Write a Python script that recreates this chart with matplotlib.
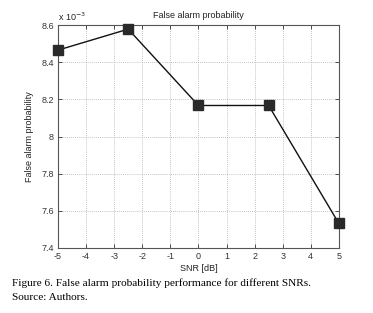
import numpy as np
import matplotlib
matplotlib.use("Agg")
import matplotlib.pyplot as plt
from matplotlib.ticker import FuncFormatter

snr_db = [-5, -2.5, 0, 2.5, 5]
pfa_e3 = [8.465, 8.578, 8.167, 8.167, 7.532]   # false alarm prob, x 1e-3
xticks = np.arange(-5, 6, 1)
yticks = [7.4, 7.6, 7.8, 8.0, 8.2, 8.4, 8.6]

plt.rcParams["font.family"] = ["Liberation Sans", "DejaVu Sans"]
plt.rcParams["axes.unicode_minus"] = False

fig = plt.figure(figsize=(3.73, 3.13), dpi=100)
ax = fig.add_axes([0.1555, 0.2077, 0.753, 0.7123])

ax.plot(snr_db, pfa_e3, color="#111111", lw=1.0, marker="s", ms=7,
        mfc="#2a2a2a", mec="#2a2a2a", clip_on=False, zorder=3)

ax.set_xlim(-5, 5)
ax.set_ylim(7.4, 8.6)
ax.set_xticks(xticks)
ax.set_yticks(yticks)
ax.yaxis.set_major_formatter(FuncFormatter(lambda v, p: "%g" % round(v, 2)))
ax.tick_params(direction="in", labelsize=6.5, length=3, width=0.6, pad=3,
               top=True, right=True, colors="#333333")
ax.grid(True, ls=(0, (1, 1.5)), color="#b0b0b0", lw=0.6)
for s in ax.spines.values():
    s.set_color("#555555")
    s.set_linewidth(0.8)

ax.set_title("False alarm probability", fontsize=6.5, pad=5, color="#222222")
ax.set_xlabel("SNR [dB]", fontsize=6.5, labelpad=2, color="#222222")
ax.set_ylabel("False alarm probability", fontsize=6.5, labelpad=5, color="#222222")
ax.text(0.0, 1.01, r"x 10$^{-3}$", transform=ax.transAxes, fontsize=6.5,
        ha="left", va="bottom", color="#222222")

fig.text(0.032, 0.087, "Figure 6. False alarm probability performance for different SNRs.",
         family="Liberation Serif", fontsize=8.1, color="#000000")
fig.text(0.032, 0.042, "Source: Authors.", family="Liberation Serif",
         fontsize=8.1, color="#000000")

fig.savefig("out.png", dpi=100)
